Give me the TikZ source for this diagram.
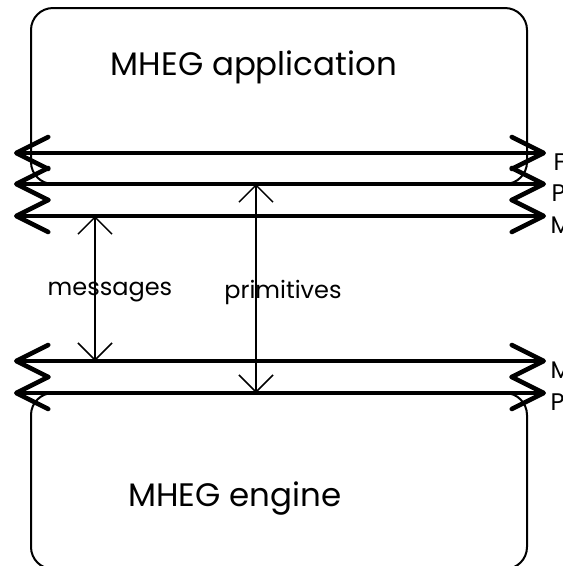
\documentclass[tikz,border=0pt]{standalone}
\usepackage{fontspec}
\setmainfont{Poppins}
\usetikzlibrary{arrows.meta}

\begin{document}
\begin{tikzpicture}[x=1pt,y=-1pt]
	\tikzset{bus/.style={line width=4.5pt,{Straight Barb[length=32pt,width=32pt,round]}-{Straight Barb[length=32pt,width=32pt,round]}},
		flow/.style={line width=1.5pt,{Straight Barb[length=17pt,width=34pt]}-{Straight Barb[length=17pt,width=34pt]}},
		layer/.style={draw,line width=2pt,rounded corners=22pt},
		title/.style={font=\fontsize{32.5}{38}\selectfont},
		tag/.style={font=\fontsize{24}{28}\selectfont}};
	\useasboundingbox (0,0) rectangle (563,566);
	% the two layers
	\draw[layer] (31,184) rectangle (527,8);
	\draw[layer] (31,569) rectangle (527,393);
	\node[title] (app) at (254,67) {MHEG application};
	\node[title] (eng) at (235,499) {MHEG engine};
	% interface lines
	\coordinate (fL) at (14,153); \coordinate (fR) at (546,153);
	\coordinate (pL) at (14,184); \coordinate (pR) at (546,184);
	\coordinate (mL) at (14,216); \coordinate (mR) at (546,216);
	\coordinate (m2L) at (14,361); \coordinate (m2R) at (546,361);
	\coordinate (p2L) at (14,393); \coordinate (p2R) at (546,393);
	\draw[bus] (fL) -- (fR) node[tag,anchor=west,xshift=2pt,yshift=-9pt] (fT) {F};
	\draw[bus] (pL) -- (pR) node[tag,anchor=west,xshift=0pt,yshift=-9pt] (pT) {P};
	\draw[bus] (mL) -- (mR) node[tag,anchor=west,xshift=-1pt,yshift=-9pt] (mT) {M};
	\draw[bus] (m2L) -- (m2R) node[tag,anchor=west,xshift=-1pt,yshift=-9pt] (m2T) {M};
	\draw[bus] (p2L) -- (p2R) node[tag,anchor=west,xshift=-1pt,yshift=-9pt] (p2T) {P};
	% messages and primitives
	\coordinate (msgA) at (95,216); \coordinate (msgB) at (95,361);
	\coordinate (priA) at (256,184); \coordinate (priB) at (256,393);
	\draw[flow] (msgA) -- (msgB);
	\draw[flow] (priA) -- (priB);
	\node[tag] (msg) at (110,292) {messages};
	\node[tag] (pri) at (283,292) {primitives};
\end{tikzpicture}
\end{document}
